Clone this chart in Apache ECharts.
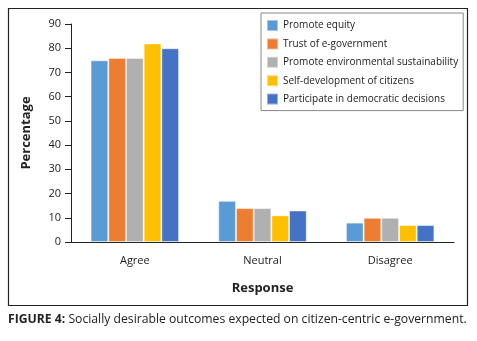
<!DOCTYPE html>
<html>
<head>
<meta charset="utf-8">
<script src="https://cdn.jsdelivr.net/npm/echarts@6/dist/echarts.min.js"></script>
<style>
  html, body { margin: 0; padding: 0; background: #fff; }
  #chart { width: 477px; height: 341px; }
</style>
</head>
<body>
<div id="chart"></div>
<script>
const categories = ['Agree', 'Neutral', 'Disagree']
const seriesNames = [
  'Promote equity',
  'Trust of e-government',
  'Promote environmental sustainability',
  'Self-development of citizens',
  'Participate in democratic decisions',
]
const promoteEquity = [75, 17, 8]
const trustEgov = [76, 14, 10]
const environment = [76, 14, 10]
const selfDevelopment = [82, 11, 7]
const democratic = [80, 13, 7]
const yTicks = [0, 10, 20, 30, 40, 50, 60, 70, 80, 90]

const colors = ['#5B9BD5', '#ED7D31', '#B0B0B0', '#FFC000', '#4472C4']
const values = [promoteEquity, trustEgov, environment, selfDevelopment, democratic]
const font = '"Open Sans", sans-serif'

const chart = echarts.init(document.getElementById('chart'))

chart.setOption({
  animation: false,
  textStyle: { fontFamily: font },
  grid: { left: 71, right: 23, top: 24, bottom: 99, containLabel: false },
  legend: {
    orient: 'vertical',
    left: 261,
    top: 13,
    padding: [6, 5, 5, 5],
    itemGap: 5.4,
    itemWidth: 11,
    itemHeight: 11,
    borderColor: '#888',
    borderWidth: 1,
    icon: 'rect',
    textStyle: { fontSize: 10, color: '#222', fontFamily: font },
    data: seriesNames,
  },
  xAxis: {
    type: 'category',
    data: categories,
    name: 'Response',
    nameLocation: 'middle',
    nameGap: 40,
    nameTextStyle: { fontSize: 13, fontWeight: 'bold', color: '#222' },
    axisLine: { lineStyle: { color: '#222' } },
    axisTick: { length: 5, lineStyle: { color: '#222' } },
    axisLabel: { fontSize: 11, color: '#222', margin: 13 },
  },
  yAxis: {
    type: 'value',
    min: yTicks[0],
    max: yTicks[yTicks.length - 1],
    interval: 10,
    name: 'Percentage',
    nameLocation: 'middle',
    nameGap: 38,
    nameTextStyle: { fontSize: 13, fontWeight: 'bold', color: '#222' },
    axisLine: { show: true, lineStyle: { color: '#222' } },
    axisTick: { show: true, length: 6, lineStyle: { color: '#222' } },
    axisLabel: { fontSize: 11, color: '#222', margin: 10 },
    splitLine: { show: false },
  },
  series: seriesNames.map((name, i) => ({
    name: name,
    type: 'bar',
    data: values[i],
    barGap: '0%',
    barCategoryGap: '30.7%',
    itemStyle: {
      color: colors[i],
      borderColor: 'rgba(255,255,255,0.45)',
      borderWidth: 1,
    },
    emphasis: { disabled: true },
  })),
  graphic: [
    {
      type: 'rect',
      shape: { x: 8.5, y: 8.5, width: 459, height: 297 },
      style: { fill: 'none', stroke: '#222', lineWidth: 1.2 },
      silent: true,
    },
    {
      type: 'text',
      left: 8,
      top: 314,
      style: {
        text: '{b|FIGURE 4:} Socially desirable outcomes expected on citizen-centric e-government.',
        font: '12.2px ' + font,
        fill: '#222',
        rich: {
          b: { fontWeight: 'bold', fontSize: 12.2, fontFamily: font, fill: '#222' },
        },
      },
    },
  ],
})
</script>
</body>
</html>
